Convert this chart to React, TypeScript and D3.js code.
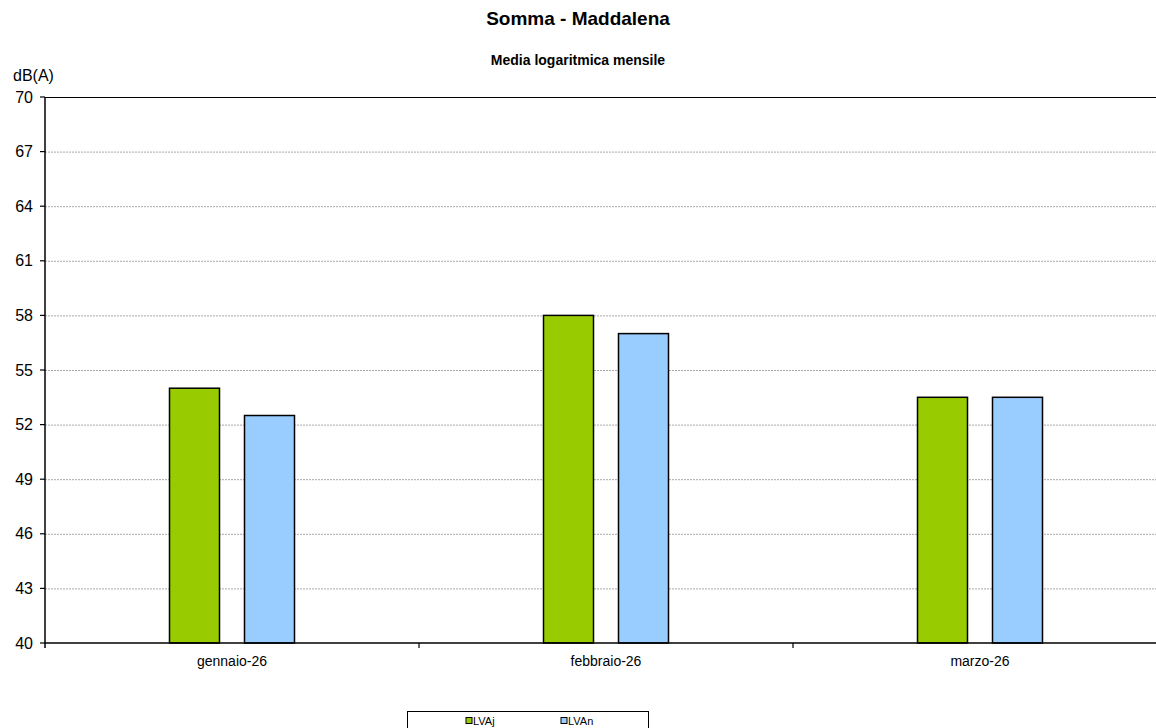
import React from "react";
import * as d3 from "d3";

const categories = ["gennaio-26", "febbraio-26", "marzo-26"];
const seriesNames = ["LVAj", "LVAn"];
const LVAj = [54, 58, 53.5];
const LVAn = [52.5, 57, 53.5];
const yTicks = [40, 43, 46, 49, 52, 55, 58, 61, 64, 67, 70];
const colors = ["#99cc00", "#99ccff"];

export default function App() {
  const W = 1156, H = 728;
  const left = 45, right = 1167, top = 97, bottom = 643;
  const x = d3.scaleBand<string>().domain(categories).range([left, right]);
  const y = d3.scaleLinear().domain([40, 70]).range([bottom, top]);
  const bw = 50, gap = 25;
  const series = [LVAj, LVAn];
  const font = "Arial, 'Liberation Sans', sans-serif";
  return (
    <svg width={W} height={H} style={{ position: "absolute", left: 0, top: 0, fontFamily: font }}>
      <rect width={W} height={H} fill="#fff" />
      <text x={578} y={25} textAnchor="middle" fontSize={19} fontWeight="bold">Somma - Maddalena</text>
      <text x={578} y={65} textAnchor="middle" fontSize={14} fontWeight="bold">Media logaritmica mensile</text>
      <text x={13} y={81} fontSize={16}>dB(A)</text>
      {yTicks.filter(t => t !== 40 && t !== 70).map(t => (
        <line key={t} x1={left} x2={right} y1={y(t) + 0.5} y2={y(t) + 0.5} stroke="#a8a8a8" strokeDasharray="2,1" />
      ))}
      {categories.map((c, i) =>
        series.map((s, j) => {
          const cx = x(c)! + x.bandwidth() / 2;
          const bx = j === 0 ? cx - gap / 2 - bw : cx + gap / 2;
          return (
            <rect key={c + j} x={bx} y={y(s[i])} width={bw} height={bottom - y(s[i])}
              fill={colors[j]} stroke="#000" strokeWidth={1.5} />
          );
        })
      )}
      <line x1={left} x2={right} y1={top + 0.5} y2={top + 0.5} stroke="#000" strokeWidth={1.2} />
      <line x1={left} x2={right} y1={bottom} y2={bottom} stroke="#000" strokeWidth={1.5} />
      <line x1={left} x2={left} y1={top} y2={bottom + 5} stroke="#000" strokeWidth={1.5} />
      {yTicks.map(t => (
        <g key={t}>
          <line x1={left - 5} x2={left} y1={y(t)} y2={y(t)} stroke="#000" strokeWidth={1.2} />
          <text x={33} y={y(t) + 5.5} textAnchor="end" fontSize={16}>{t}</text>
        </g>
      ))}
      {categories.slice(1).map(c => (
        <line key={c} x1={x(c)!} x2={x(c)!} y1={bottom} y2={bottom + 5} stroke="#000" strokeWidth={1.2} />
      ))}
      {categories.map(c => (
        <text key={c} x={x(c)! + x.bandwidth() / 2} y={666} textAnchor="middle" fontSize={14}>{c}</text>
      ))}
      <rect x={407.5} y={711.5} width={241} height={30} fill="#fff" stroke="#000" strokeWidth={1} />
      {seriesNames.map((n, j) => (
        <g key={n} transform={`translate(${466 + j * 95},0)`}>
          <rect x={0} y={717.5} width={6} height={6} fill={colors[j]} stroke="#000" strokeWidth={1} />
          <text x={7} y={725} fontSize={11}>{n}</text>
        </g>
      ))}
    </svg>
  );
}
